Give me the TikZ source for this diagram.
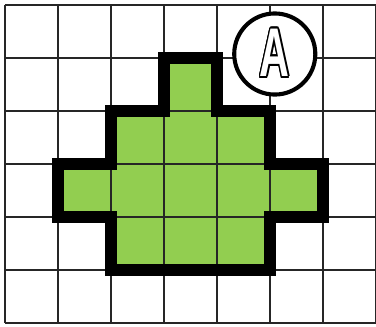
\documentclass[tikz,border=0pt]{standalone}
\usepackage{fontspec}
\usepackage{contour}
\newfontfamily\badgefont{Liberation Sans}
\definecolor{cellgreen}{RGB}{146,206,80}
\contourlength{1.1pt}

\begin{document}
\begin{tikzpicture}[x=1cm,y=1cm]
    \useasboundingbox (-0.094,-0.075) rectangle (7.00,6.094);
    \fill[white] (-0.094,-0.075) rectangle (7.00,6.094);

    \foreach \x/\y in {3/4,2/3,3/3,4/3,1/2,2/2,3/2,4/2,5/2,2/1,3/1,4/1}{
        \fill[cellgreen] (\x,\y) rectangle ++(1,1);
    }

    \draw[black!85,line width=1pt] (0,0) grid (7,6);

    \draw[line width=6.4pt]
        (3,5) -- (4,5) -- (4,4) -- (5,4) -- (5,3) -- (6,3) -- (6,2)
        -- (5,2) -- (5,1) -- (2,1) -- (2,2) -- (1,2) -- (1,3) -- (2,3)
        -- (2,4) -- (3,4) -- cycle;

    \node[draw,circle,line width=2.2pt,fill=white,minimum size=1.53cm,inner sep=0pt]
        (badge) at (5.09,5.075)
        {\badgefont\bfseries\fontsize{37}{37}\selectfont
         \scalebox{0.6}[1]{\contour{black}{\textcolor{white}{A}}}};
\end{tikzpicture}
\end{document}
